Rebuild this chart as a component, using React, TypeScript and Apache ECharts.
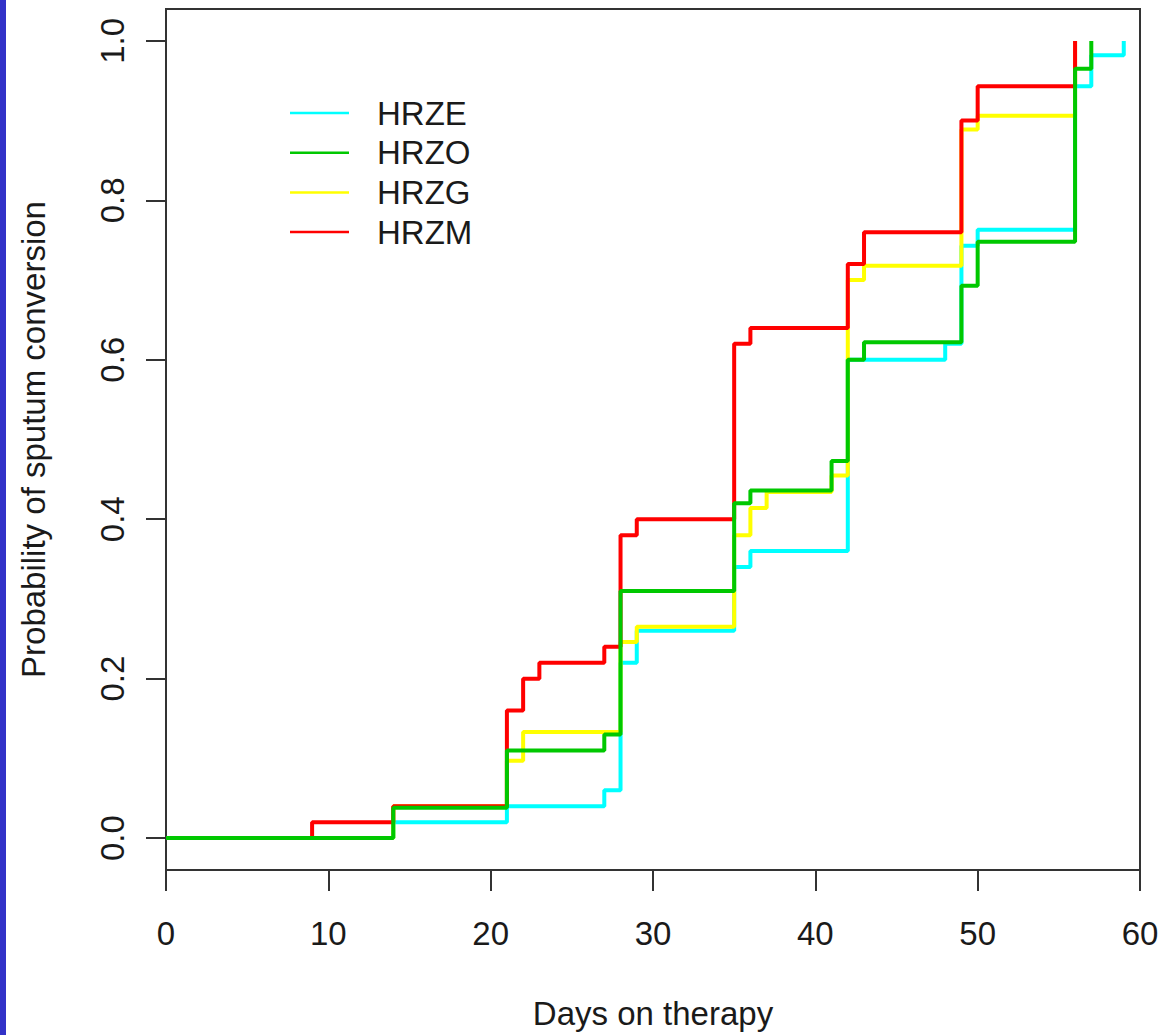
import React, { useEffect, useRef } from "react";
import * as echarts from "echarts";

const xTicks = [0, 10, 20, 30, 40, 50, 60];
const yTicks = [0, 0.2, 0.4, 0.6, 0.8, 1.0];

const legendNames = ["HRZE", "HRZO", "HRZG", "HRZM"];

const hrzeDays = [0, 14, 21, 27, 28, 29, 35, 36, 42, 48, 49, 50, 56, 57, 59];
const hrzeProb = [0, 0.02, 0.04, 0.06, 0.22, 0.26, 0.34, 0.36, 0.60, 0.62, 0.743, 0.763, 0.943, 0.982, 1.0];

const hrzoDays = [0, 14, 21, 27, 28, 35, 36, 41, 42, 43, 49, 50, 56, 57];
const hrzoProb = [0, 0.038, 0.11, 0.13, 0.31, 0.42, 0.436, 0.473, 0.60, 0.622, 0.693, 0.748, 0.965, 1.0];

const hrzgDays = [0, 14, 21, 22, 28, 29, 35, 36, 37, 41, 42, 43, 49, 50, 56];
const hrzgProb = [0, 0.04, 0.097, 0.133, 0.246, 0.265, 0.38, 0.414, 0.434, 0.455, 0.70, 0.718, 0.889, 0.906, 1.0];

const hrzmDays = [0, 9, 14, 21, 22, 23, 27, 28, 29, 35, 36, 42, 43, 49, 50, 56];
const hrzmProb = [0, 0.02, 0.04, 0.16, 0.20, 0.22, 0.24, 0.38, 0.40, 0.62, 0.64, 0.72, 0.76, 0.90, 0.943, 1.0];

const COLORS: Record<string, string> = {
  HRZE: "#00FFFF",
  HRZO: "#00C800",
  HRZG: "#FFFF00",
  HRZM: "#FF0000",
};

const FONT = "'Liberation Sans', Arial, Helvetica, sans-serif";
const TXT = "#1a1a1a";

function pairs(d: number[], p: number[]) {
  return d.map((x, i) => [x, p[i]]);
}

export default function App() {
  const ref = useRef<HTMLDivElement>(null);
  useEffect(() => {
    if (!ref.current) return;
    const chart = echarts.init(ref.current, undefined, { renderer: "svg" });

    const mk = (name: string, d: number[], p: number[], z: number) => ({
      name,
      type: "line",
      step: "end",
      showSymbol: false,
      symbol: "none",
      z,
      data: pairs(d, p),
      lineStyle: { color: COLORS[name], width: 4 },
      itemStyle: { color: COLORS[name] },
    });

    const legendGraphics: any[] = [];
    legendNames.forEach((n, i) => {
      const y = 113 + i * 39.7;
      legendGraphics.push({
        type: "line",
        shape: { x1: 290, y1: y, x2: 349, y2: y },
        style: { stroke: COLORS[n], lineWidth: 2.5 },
      });
      legendGraphics.push({
        type: "text",
        x: 377,
        y,
        style: {
          text: n,
          fill: TXT,
          fontSize: 33,
          fontFamily: FONT,
          verticalAlign: "middle",
          align: "left",
        },
      });
    });

    chart.setOption({
      animation: false,
      backgroundColor: "#ffffff",
      grid: {
        left: 166,
        top: 9,
        right: 23,
        bottom: 165,
        show: true,
        borderColor: "#333333",
        borderWidth: 2,
        backgroundColor: "transparent",
      },
      xAxis: {
        type: "value",
        min: 0,
        max: 60,
        interval: 10,
        name: "Days on therapy",
        nameLocation: "middle",
        nameGap: 127,
        nameTextStyle: { fontSize: 33, fontFamily: FONT, color: TXT },
        axisLine: { show: true, onZero: false, lineStyle: { color: "#333333", width: 2 } },
        axisTick: { show: true, length: 21, inside: false, lineStyle: { color: "#333333", width: 2 } },
        axisLabel: {
          fontSize: 33,
          fontFamily: FONT,
          color: TXT,
          margin: 47,
          customValues: xTicks,
          formatter: (v: number) => String(v),
        },
        splitLine: { show: false },
      },
      yAxis: {
        type: "value",
        min: -0.04,
        max: 1.04,
        name: "Probability of sputum conversion",
        nameLocation: "middle",
        nameGap: 116,
        nameRotate: 90,
        nameTextStyle: { fontSize: 33, fontFamily: FONT, color: TXT },
        axisLine: { show: false },
        axisTick: {
          show: true,
          length: 20,
          inside: false,
          customValues: yTicks,
          lineStyle: { color: "#333333", width: 2 },
        },
        axisLabel: {
          fontSize: 33,
          fontFamily: FONT,
          color: TXT,
          margin: 37,
          rotate: 90,
          customValues: yTicks,
          formatter: (v: number) => v.toFixed(1),
        },
        splitLine: { show: false },
      },
      series: [
        mk("HRZE", hrzeDays, hrzeProb, 2),
        mk("HRZG", hrzgDays, hrzgProb, 3),
        mk("HRZM", hrzmDays, hrzmProb, 4),
        mk("HRZO", hrzoDays, hrzoProb, 5),
      ],
      graphic: [
        {
          type: "rect",
          shape: { x: 0, y: 0, width: 6, height: 1035 },
          style: { fill: "#3232C8" },
          silent: true,
        },
        ...legendGraphics,
      ],
    });

    return () => chart.dispose();
  }, []);

  return (
    <div
      ref={ref}
      style={{ position: "absolute", left: 0, top: 0, width: 1163, height: 1035, background: "#fff" }}
    />
  );
}
